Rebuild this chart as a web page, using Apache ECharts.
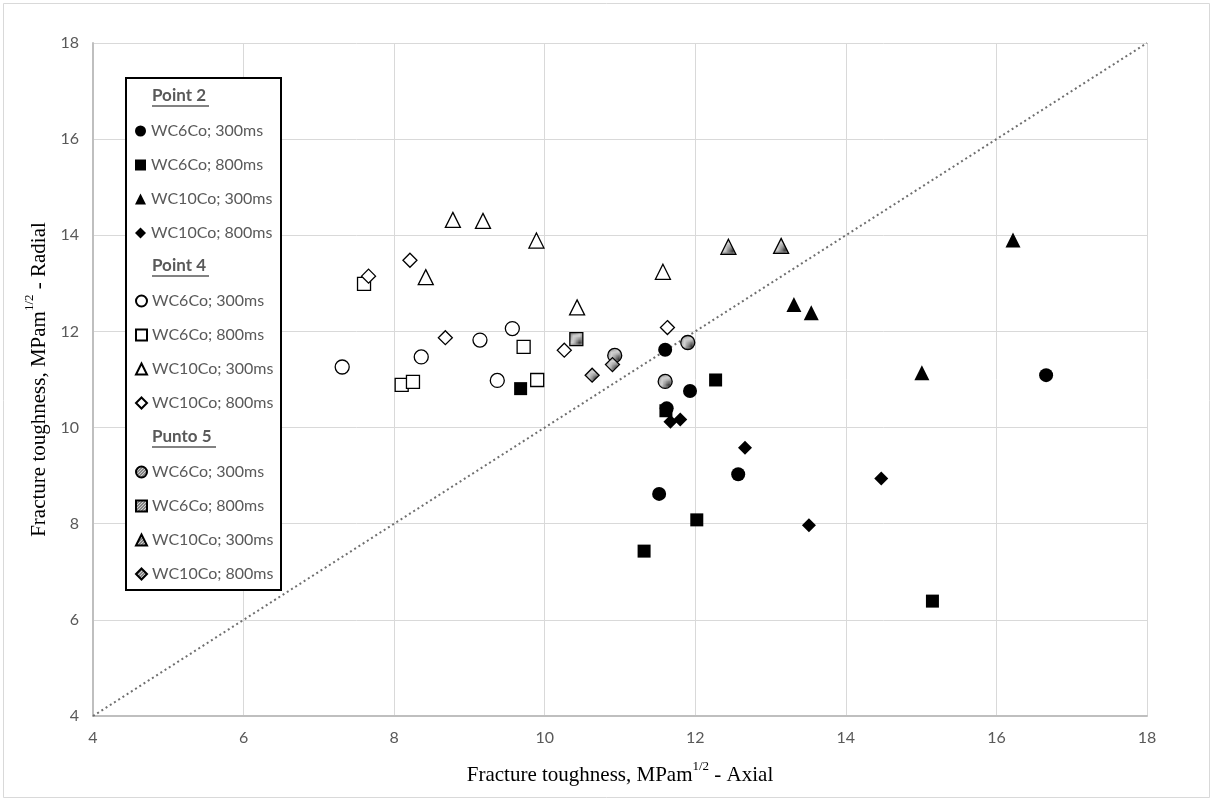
<!DOCTYPE html>
<html>
<head>
<meta charset="utf-8">
<title>Fracture toughness: radial vs axial</title>
<script src="https://cdn.jsdelivr.net/npm/echarts@6/dist/echarts.min.js"></script>
<style>
  html, body { margin: 0; padding: 0; background: #fff; }
  #chart { width: 1213px; height: 801px; }
</style>
</head>
<body>
<div id="chart"></div>
<script>
// ---------- Data ----------

const axisTicks = [4, 6, 8, 10, 12, 14, 16, 18];
const diagonal = [4, 18];

// Point 2
const p2Wc6_300 = [[16.66, 11.09], [11.60, 11.62], [11.93, 10.76], [12.57, 9.03], [11.52, 8.62], [11.62, 10.40]];
const p2Wc6_800 = [[12.27, 10.99], [11.61, 10.35], [9.68, 10.81], [12.02, 8.08], [11.32, 7.43], [15.15, 6.39]];
const p2Wc10_300 = [[16.22, 13.90], [13.31, 12.56], [13.54, 12.39], [15.01, 11.14]];
const p2Wc10_800 = [[11.67, 10.12], [11.80, 10.17], [12.66, 9.58], [13.51, 7.97], [14.47, 8.94]];
// Point 4
const p4Wc6_300 = [[7.31, 11.26], [8.36, 11.47], [9.14, 11.82], [9.57, 12.06], [9.37, 10.98]];
const p4Wc6_800 = [[7.60, 12.99], [8.10, 10.89], [8.25, 10.95], [9.72, 11.68], [9.90, 10.99]];
const p4Wc10_300 = [[8.78, 14.32], [9.18, 14.30], [9.89, 13.89], [8.42, 13.13], [10.43, 12.50], [11.57, 13.24]];
const p4Wc10_800 = [[7.66, 13.15], [8.21, 13.48], [8.68, 11.87], [10.26, 11.61], [11.63, 12.08]];
// Punto 5
const p5Wc6_300 = [[10.93, 11.50], [11.90, 11.77], [11.60, 10.96]];
const p5Wc6_800 = [[10.42, 11.84]];
const p5Wc10_300 = [[12.44, 13.76], [13.14, 13.78]];
const p5Wc10_800 = [[10.90, 11.31], [10.63, 11.09]];

const groupTitles = ['Point 2', 'Point 4', 'Punto 5'];
const itemLabels = ['WC6Co; 300ms', 'WC6Co; 800ms', 'WC10Co; 300ms', 'WC10Co; 800ms'];

// ---------- Styling ----------

const GREY_TEXT = '#595959';
const GRID_LINE = '#d9d9d9';
const UI_FONT = 'Lato, "Noto Sans", sans-serif';
const SERIF = '"Liberation Serif", "DejaVu Serif", serif';

// dotted grey fill for the "Punto 5" markers
function dotPattern() {
  const c = document.createElement('canvas');
  c.width = 3; c.height = 3;
  const ctx = c.getContext('2d');
  ctx.fillStyle = '#d0d0d0';
  ctx.fillRect(0, 0, 3, 3);
  ctx.fillStyle = '#3a3a3a';
  ctx.fillRect(0, 0, 1, 1);
  ctx.fillRect(2, 1, 1, 1);
  ctx.fillRect(1, 2, 1, 1);
  return { image: c, repeat: 'repeat' };
}
const pattern = dotPattern();

const symbols = ['circle', 'rect', 'triangle', 'diamond'];
const sizes = [14, 13, 15, 14];
const fills = ['#000', '#fff', pattern];
const groups = [
  [p2Wc6_300, p2Wc6_800, p2Wc10_300, p2Wc10_800],
  [p4Wc6_300, p4Wc6_800, p4Wc10_300, p4Wc10_800],
  [p5Wc6_300, p5Wc6_800, p5Wc10_300, p5Wc10_800],
];

// unique series names; the legend strips the "Gn|" prefix
const seriesName = (g, i) => `G${g}|${itemLabels[i]}`;

const series = [{
  type: 'line',
  name: 'diagonal',
  data: diagonal.map((v) => [v, v]),
  symbol: 'none',
  silent: true,
  z: 1,
  lineStyle: { color: '#6f6f6f', width: 2, type: [2, 3] },
}];
groups.forEach((sets, g) => {
  sets.forEach((data, i) => {
    series.push({
      type: 'scatter',
      name: seriesName(g, i),
      data,
      symbol: symbols[i],
      symbolSize: sizes[i],
      z: 3,
      itemStyle: {
        color: fills[g],
        borderColor: '#000',
        borderWidth: g === 0 ? 0 : 1.3,
        opacity: 1,
      },
    });
  });
});

const legendTops = [123, 293, 464];
const legends = groups.map((sets, g) => ({
  data: sets.map((_, i) => seriesName(g, i)),
  orient: 'vertical',
  left: 135,
  top: legendTops[g],
  padding: 0,
  z: 20,
  itemGap: 18,
  itemWidth: 11,
  itemHeight: 11,
  selectedMode: false,
  formatter: (name) => name.split('|')[1],
  textStyle: { color: GREY_TEXT, fontSize: 16, lineHeight: 14, fontFamily: UI_FONT },
}));

// legend frame + underlined group headers
const headerY = [96, 266, 437];
const headerW = [57, 57, 64];
const graphic = [
  {
    type: 'rect', silent: true,
    shape: { x: 3.5, y: 3.5, width: 1206, height: 794 },
    style: { fill: 'none', stroke: GRID_LINE, lineWidth: 1 },
  },
  {
    type: 'rect', silent: true, z: 5,
    shape: { x: 126, y: 78, width: 155, height: 512 },
    style: { fill: '#fff', stroke: '#000', lineWidth: 2 },
  },
];
groupTitles.forEach((t, g) => {
  graphic.push({
    type: 'text', silent: true, z: 21,
    x: 152, y: headerY[g],
    style: {
      text: t, fill: GREY_TEXT, font: `bold 17px ${UI_FONT}`,
      verticalAlign: 'middle', align: 'left',
    },
  });
  graphic.push({
    type: 'line', silent: true, z: 21,
    shape: { x1: 152, y1: headerY[g] + 10, x2: 152 + headerW[g], y2: headerY[g] + 10 },
    style: { stroke: GREY_TEXT, lineWidth: 1.3 },
  });
});

const titleRich = {
  t: { fontFamily: SERIF, fontSize: 21, color: '#000', lineHeight: 26, verticalAlign: 'bottom' },
  s: { fontFamily: SERIF, fontSize: 13, color: '#000', lineHeight: 26, verticalAlign: 'top' },
};
const axisName = (suffix) => `{t|Fracture toughness, MPam}{s|1/2}{t| - ${suffix}}`;

const valueAxis = (nameSuffix, gap) => ({
  type: 'value',
  min: axisTicks[0],
  max: axisTicks[axisTicks.length - 1],
  interval: axisTicks[1] - axisTicks[0],
  name: axisName(nameSuffix),
  nameLocation: 'middle',
  nameGap: gap,
  nameTextStyle: { rich: titleRich },
  axisLine: { show: true, lineStyle: { color: '#bfbfbf', width: 2 } },
  axisTick: { show: false },
  axisLabel: { color: GREY_TEXT, fontSize: 16, fontFamily: UI_FONT, margin: 14 },
  splitLine: { show: true, lineStyle: { color: GRID_LINE, width: 1 } },
});

const chart = echarts.init(document.getElementById('chart'), null, { renderer: 'canvas' });
chart.setOption({
  animation: false,
  backgroundColor: '#fff',
  grid: { left: 93, right: 66, top: 43, bottom: 85, containLabel: false },
  xAxis: valueAxis('Axial', 44),
  yAxis: Object.assign(valueAxis('Radial', 40), { nameRotate: 90 }),
  legend: legends,
  graphic,
  series,
});
</script>
</body>
</html>
